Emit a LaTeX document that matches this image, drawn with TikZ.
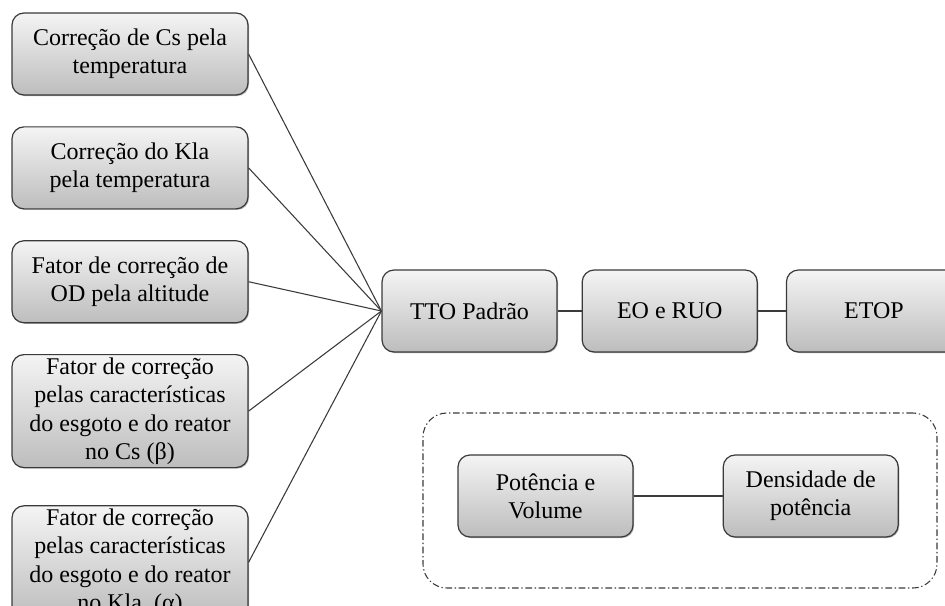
\documentclass[tikz,border=0pt]{standalone}
\usepackage{fontspec}
\setmainfont{LiberationSerif}[Extension=.ttf,UprightFont=*-Regular,BoldFont=*-Bold]
\usetikzlibrary{positioning,shadows}
\definecolor{edge}{HTML}{3A3A3A}
\definecolor{boxtop}{HTML}{F4F4F4}
\definecolor{boxbot}{HTML}{BDBDBD}

\begin{document}
\begin{tikzpicture}[x=0.75pt,y=-0.75pt,every node/.style={font=\fontsize{18}{21.2}\selectfont,align=center,inner sep=0pt},card/.style={draw=edge,line width=0.9pt,rounded corners=9pt,top color=boxtop,bottom color=boxbot,drop shadow={shadow xshift=0.8pt,shadow yshift=-0.8pt,fill=black,opacity=0.3},minimum width=#1,minimum height=61.5pt},card/.default=177pt,link/.style={draw=edge,line width=0.8pt}]
\useasboundingbox (0,0) rectangle (945,606);
\clip (0,0) rectangle (945,606);
\node[card] (cstemp) at (130,54) {Correção de Cs pela\\temperatura};
\node[card,below=23pt of cstemp] (klatemp) {Correção do Kla\\pela temperatura};
\node[card,below=23pt of klatemp] (odalt) {Fator de correção de\\OD pela altitude};
\node[card,minimum height=84.75pt,below=23pt of odalt] (beta) {Fator de correção\\pelas características\\do esgoto e do reator\\no Cs (β)};
\node[card,minimum height=84.75pt,below=27.75pt of beta] (alpha) {Fator de correção\\pelas características\\do esgoto e do reator\\no Kla~~(α)};
\node[card=131.25pt] (tto) at (469.5,311) {TTO Padrão};
\node[card=131.25pt,right=18pt of tto] (eorue) {EO e RUO};
\node[card=131.25pt,right=21pt of eorue] (etop) {ETOP};
\node[draw=edge,dash pattern=on 5pt off 2pt on 1pt off 2pt,line width=0.8pt,rounded corners=18pt,minimum width=385.5pt,minimum height=131.25pt] (grupo) at (680,500.5) {};
\node[card=131.25pt] (potvol) at (545.5,496) {Potência e\\Volume};
\node[card=131.25pt,right=66.75pt of potvol] (denspot) {Densidade de\\potência};
\foreach \src in {cstemp,klatemp,odalt,beta,alpha}
  \draw[link] (\src.east) -- (tto.west);
\draw[link] (tto) -- (eorue);
\draw[link] (eorue) -- (etop);
\draw[link] (potvol) -- (denspot);
\end{tikzpicture}
\end{document}
